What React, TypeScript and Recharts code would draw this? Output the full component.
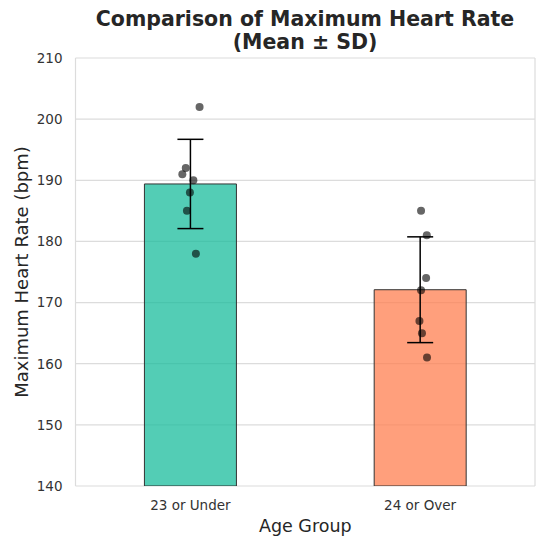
import React from "react";
import {
  ComposedChart, Bar, Cell, ErrorBar, Scatter, XAxis, YAxis, CartesianGrid,
} from "recharts";

// ── Data ──────────────────────────────────────────────────────────────────────

const GROUPS = ["23 or Under", "24 or Over"];
const MEAN_HR = [189.4, 172.1];
const SD_HR = [7.3, 8.65];
const BAR_COLORS = ["#1abc9c", "#ff7f50"];

// individual observations (bpm) + horizontal jitter (fraction of category band)
const UNDER_23_HR = [202, 192, 191, 190, 188, 185, 178];
const UNDER_23_JITTER = [0.04, -0.02, -0.035, 0.013, -0.002, -0.015, 0.024];
const OVER_24_HR = [185, 181, 174, 172, 167, 165, 161];
const OVER_24_JITTER = [0.004, 0.029, 0.026, 0.004, -0.003, 0.008, 0.03];

const Y_TICKS = [140, 150, 160, 170, 180, 190, 200, 210];

const chartData = GROUPS.map((g, i) => ({ group: g, mean: MEAN_HR[i], sd: SD_HR[i] }));

const points = [
  ...UNDER_23_HR.map((v, i) => ({ x: 0 + UNDER_23_JITTER[i], y: v })),
  ...OVER_24_HR.map((v, i) => ({ x: 1 + OVER_24_JITTER[i], y: v })),
];

const FONT = "'DejaVu Sans', sans-serif";
const TEXT = "#262626";

function Dot(props: { cx?: number; cy?: number }) {
  return <circle cx={props.cx} cy={props.cy} r={4} fill="#000" fillOpacity={0.6} />;
}

export default function App() {
  return (
    <div style={{ position: "absolute", left: 0, top: 0, width: 550, height: 544, background: "#fff", fontFamily: FONT }}>
      <div
        style={{
          position: "absolute", left: 75, width: 460, top: 8, textAlign: "center",
          fontWeight: "bold", fontSize: 20.5, lineHeight: "23px", color: TEXT,
        }}
      >
        Comparison of Maximum Heart Rate
        <br />
        (Mean ± SD)
      </div>
      <ComposedChart
        width={550}
        height={544}
        data={chartData}
        margin={{ top: 58, right: 15, bottom: 10, left: 5 }}
        barCategoryGap="30%"
      >
        <CartesianGrid
          stroke="#dcdcdc"
          strokeWidth={1.2}
          verticalCoordinatesGenerator={({ offset }: any) => [offset.left, offset.left + offset.width]}
        />
        <XAxis
          xAxisId="cat"
          dataKey="group"
          type="category"
          axisLine={false}
          tickLine={false}
          tickMargin={8}
          height={48}
          tick={{ fill: "#333", fontSize: 13.5, fontFamily: FONT }}
          label={{ value: "Age Group", position: "insideBottom", offset: 2, fill: TEXT, fontSize: 17.5, fontFamily: FONT }}
        />
        <XAxis xAxisId="num" dataKey="x" type="number" domain={[-0.5, 1.5]} hide allowDataOverflow />
        <YAxis
          domain={[140, 210]}
          ticks={Y_TICKS}
          allowDataOverflow
          axisLine={false}
          tickLine={false}
          tickMargin={7}
          width={70.5}
          tick={{ fill: "#333", fontSize: 13.5, fontFamily: FONT }}
          label={{
            value: "Maximum Heart Rate (bpm)", angle: -90, position: "insideLeft", offset: 17,
            fill: TEXT, fontSize: 18, fontFamily: FONT, style: { textAnchor: "middle" },
          }}
        />
        <Bar xAxisId="cat" dataKey="mean" stroke="#333" strokeWidth={1} fillOpacity={0.75} isAnimationActive={false}>
          {chartData.map((d, i) => (
            <Cell key={d.group} fill={BAR_COLORS[i]} />
          ))}
          <ErrorBar dataKey="sd" width={13} stroke="#000" strokeWidth={1.5} direction="y" />
        </Bar>
        <Scatter xAxisId="num" data={points} dataKey="y" shape={<Dot />} isAnimationActive={false} />
      </ComposedChart>
    </div>
  );
}
